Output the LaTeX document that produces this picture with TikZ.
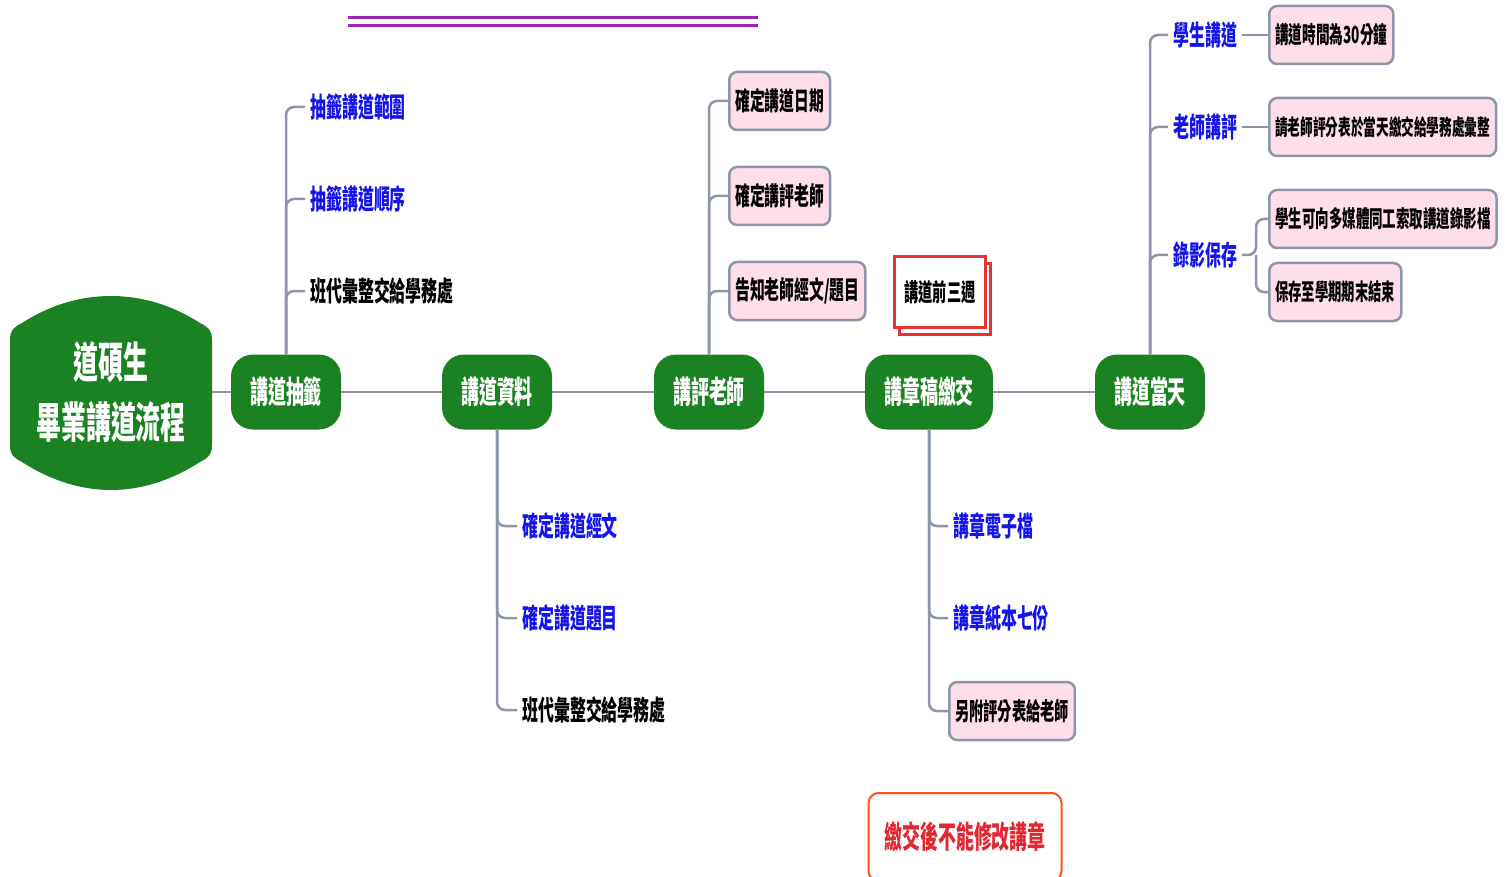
\documentclass[tikz,border=0pt]{standalone}
\usepackage{fontspec}
\setmainfont{Noto Sans CJK TC}[FakeStretch=0.58]
\usetikzlibrary{shadows}
\definecolor{mapgreen}{RGB}{26,130,34}
\definecolor{linkgray}{RGB}{140,150,168}
\definecolor{leafblue}{RGB}{20,20,235}
\definecolor{notepink}{RGB}{253,222,233}
\definecolor{notered}{RGB}{230,50,50}
\definecolor{warnred}{RGB}{255,80,30}
\definecolor{warntext}{RGB}{225,40,50}
\definecolor{titlepurple}{RGB}{156,39,176}

\begin{document}
\begin{tikzpicture}[x=1pt, y=-1pt,
  link/.style={draw=linkgray, line width=2.5pt},
  topic/.style={fill=mapgreen, rounded corners=22, minimum width=110, minimum height=75, inner xsep=19, text=white, font=\bfseries\fontsize{31}{33}\selectfont},
  leaf/.style={anchor=west, inner xsep=5, font=\bfseries\fontsize{27.5}{30}\selectfont},
  note/.style={anchor=west, draw=linkgray, line width=2.5pt, fill=notepink, rounded corners=8, minimum height=58, inner xsep=6, font=\bfseries\fontsize{25.5}{27}\selectfont}]
\useasboundingbox (0,0) rectangle (1509,877);
\draw[line width=3pt, titlepurple] (348,18) -- (758,18) (348,26) -- (758,26);
% root
\fill[mapgreen] (10,345) -- (10,445) .. controls (10,455) and (14,458) .. (22,462) .. controls (50,480) and (80,490) .. (111,490) .. controls (142,490) and (172,480) .. (200,462) .. controls (208,458) and (212,455) .. (212,445) -- (212,340) .. controls (212,330) and (208,327) .. (200,323) .. controls (172,305) and (142,296) .. (111,296) .. controls (80,296) and (50,305) .. (22,323) .. controls (14,327) and (10,330) .. (10,340) -- cycle;
\node[text=white, align=center, minimum width=202, minimum height=130, font=\bfseries\fontsize{43}{60}\selectfont] (root) at (111,392) {道碩生\\畢業講道流程};
% main line
\node[topic] (cq) at (286,392) {講道抽籤};
\node[topic] (zl) at (497,392) {講道資料};
\node[topic] (pl) at (709,392) {講評老師};
\node[topic] (jz) at (929,392) {講章稿繳交};
\node[topic] (dt) at (1150,392) {講道當天};
\draw[link] (root.east) -- (cq.west) (cq.east) -- (zl.west) (zl.east) -- (pl.west) (pl.east) -- (jz.west) (jz.east) -- (dt.west);
% 講道抽籤
\node[leaf, text=leafblue] (cq1) at (305,107) {抽籤講道範圍};
\node[leaf, text=leafblue] (cq2) at (305,199) {抽籤講道順序};
\node[leaf] (cq3) at (305,291) {班代彙整交給學務處};
\foreach \n in {cq1,cq2,cq3} \draw[link, rounded corners=8] (cq.north) |- (\n.west);
% 講道資料
\node[leaf, text=leafblue] (zl1) at (517,526) {確定講道經文};
\node[leaf, text=leafblue] (zl2) at (517,618) {確定講道題目};
\node[leaf] (zl3) at (517,710) {班代彙整交給學務處};
\foreach \n in {zl1,zl2,zl3} \draw[link, rounded corners=8] (zl.south) |- (\n.west);
% 講評老師
\node[note] (pl1) at (728,101) {確定講道日期};
\node[note] (pl2) at (728,196) {確定講評老師};
\node[note] (pl3) at (728,291) {告知老師經文/題目};
\foreach \n in {pl1,pl2,pl3} \draw[link, rounded corners=8] (pl.north) |- (\n.west);
\node[draw=notered, line width=2.2pt, fill=white, copy shadow={shadow xshift=5pt, shadow yshift=-7pt, draw=notered, fill=white, line width=2.2pt}, minimum width=91, minimum height=71, font=\bfseries\fontsize{24.5}{26}\selectfont] (wk) at (940,292) {講道前三週};
% 講章稿繳交
\node[leaf, text=leafblue] (jz1) at (948,526) {講章電子檔};
\node[leaf, text=leafblue] (jz2) at (948,618) {講章紙本七份};
\node[note, font=\bfseries\fontsize{24.5}{26}\selectfont] (jz3) at (948,711) {另附評分表給老師};
\foreach \n in {jz1,jz2,jz3} \draw[link, rounded corners=8] (jz.south) |- (\n.west);
\node[draw=warnred, line width=2pt, rounded corners=10, minimum width=193, minimum height=88, text=warntext, font=\bfseries\fontsize{31}{33}\selectfont] (warn) at (965,837) {繳交後不能修改講章};
% 講道當天
\node[leaf, text=leafblue] (dt1) at (1168,35) {學生講道};
\node[leaf, text=leafblue] (dt2) at (1168,127) {老師講評};
\node[leaf, text=leafblue] (dt3) at (1168,255) {錄影保存};
\foreach \n in {dt1,dt2,dt3} \draw[link, rounded corners=8] (dt.north) |- (\n.west);
\node[note, font=\bfseries\fontsize{23.5}{25}\selectfont] (dt1a) at (1268,35) {講道時間為30分鐘};
\node[note, font=\bfseries\fontsize{21.8}{24}\selectfont] (dt2a) at (1268,127) {請老師評分表於當天繳交給學務處彙整};
\node[note, font=\bfseries\fontsize{23.2}{25}\selectfont] (dt3a) at (1268,219) {學生可向多媒體同工索取講道錄影檔};
\node[note, font=\bfseries\fontsize{23}{25}\selectfont] (dt3b) at (1268,292) {保存至學期期末結束};
\draw[link] (dt1.east) -- (dt1a.west) (dt2.east) -- (dt2a.west);
\coordinate (dt3j) at (1256,255);
\draw[link, rounded corners=8] (dt3.east) -- (dt3j) |- (dt3a.west) (dt3j) |- (dt3b.west);
\end{tikzpicture}
\end{document}
